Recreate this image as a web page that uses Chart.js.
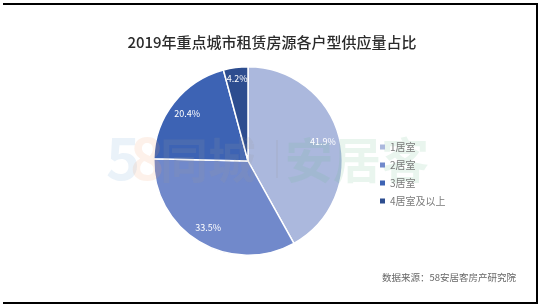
<!DOCTYPE html>
<html>
<head>
<meta charset="utf-8">
<script src="https://cdn.jsdelivr.net/npm/chart.js@4"></script>
<style>
  body { margin: 0; background: #fff; }
  #wrap { position: relative; width: 542px; height: 306px; }
  #frame {
    position: absolute; left: 3px; top: 3px; width: 533px; height: 297px;
    border-top: 2px solid #000; border-right: 2px solid #000; border-bottom: 2px solid #000;
    pointer-events: none;
  }
</style>
</head>
<body>
<div id="wrap">
  <canvas id="chart" width="542" height="306"></canvas>
  <div id="frame"></div>
</div>
<script>
const categories = ['1居室', '2居室', '3居室', '4居室及以上'];
const shares = [41.9, 33.5, 20.4, 4.2];
const sliceColors = ['#abb8dd', '#7189cb', '#3d63b4', '#2d4d8f'];
const titleText = '2019年重点城市租赁房源各户型供应量占比';
const sourceText = '数据来源：58安居客房产研究院';

const FONT = '"Noto Sans CJK SC", "Noto Sans", sans-serif';

// faint 58同城|安居客 watermark drawn over the pie
const watermark = {
    id: 'watermark',
    afterDatasetsDraw(chart) {
        const ctx = chart.ctx;
        ctx.save();
        ctx.globalAlpha = 0.15;
        ctx.textBaseline = 'alphabetic';
        ctx.font = 'bold 58px ' + FONT;
        ctx.fillStyle = '#6fa6d8';
        ctx.fillText('5', 106, 180);
        ctx.fillStyle = '#f0a070';
        ctx.fillText('8', 130, 180);
        ctx.font = 'bold 48px ' + FONT;
        ctx.fillStyle = '#9a9a9a';
        ctx.fillText('同城', 160, 178);
        ctx.fillRect(276, 140, 2, 38);
        ctx.fillStyle = '#6cbf8a';
        ctx.fillText('安居客', 285, 178);
        ctx.restore();
    }
};

// percent labels inside slices
const sliceLabels = {
    id: 'sliceLabels',
    afterDatasetsDraw(chart) {
        const ctx = chart.ctx;
        const meta = chart.getDatasetMeta(0);
        ctx.save();
        ctx.font = '9px ' + FONT;
        ctx.fillStyle = '#ffffff';
        ctx.textAlign = 'center';
        ctx.textBaseline = 'middle';
        meta.data.forEach((arc, i) => {
            const p = arc.getProps(['x', 'y', 'startAngle', 'endAngle', 'outerRadius']);
            const mid = (p.startAngle + p.endAngle) / 2;
            const f = shares[i] < 5 ? 0.88 : 0.82;
            ctx.fillText(shares[i].toFixed(1) + '%',
                p.x + Math.cos(mid) * p.outerRadius * f,
                p.y + Math.sin(mid) * p.outerRadius * f);
        });
        ctx.restore();
    }
};

// title, legend on the right, source note
const texts = {
    id: 'texts',
    afterDraw(chart) {
        const ctx = chart.ctx;
        ctx.save();
        ctx.textBaseline = 'middle';
        ctx.textAlign = 'center';
        ctx.font = '500 15px ' + FONT;
        ctx.fillStyle = '#2b2b2b';
        ctx.fillText(titleText, 272, 42);
        ctx.textAlign = 'left';
        ctx.font = '10px ' + FONT;
        const rows = [147, 165, 183, 201];
        categories.forEach((c, i) => {
            ctx.fillStyle = sliceColors[i];
            ctx.fillRect(380, rows[i] - 2.5, 5, 5);
            ctx.fillStyle = '#7a7a7a';
            ctx.fillText(c, 390, rows[i]);
        });
        ctx.font = '9.5px ' + FONT;
        ctx.fillStyle = '#666666';
        ctx.fillText(sourceText, 382, 277);
        ctx.restore();
    }
};

new Chart(document.getElementById('chart'), {
    type: 'pie',
    data: {
        labels: categories,
        datasets: [{
            data: shares,
            backgroundColor: sliceColors,
            borderColor: '#ffffff',
            borderWidth: 1.5
        }]
    },
    options: {
        responsive: false,
        animation: false,
        layout: { padding: { left: 153, right: 199, top: 66, bottom: 50 } },
        plugins: {
            legend: { display: false },
            tooltip: { enabled: false },
            title: { display: false }
        }
    },
    plugins: [watermark, sliceLabels, texts]
});
</script>
</body>
</html>
